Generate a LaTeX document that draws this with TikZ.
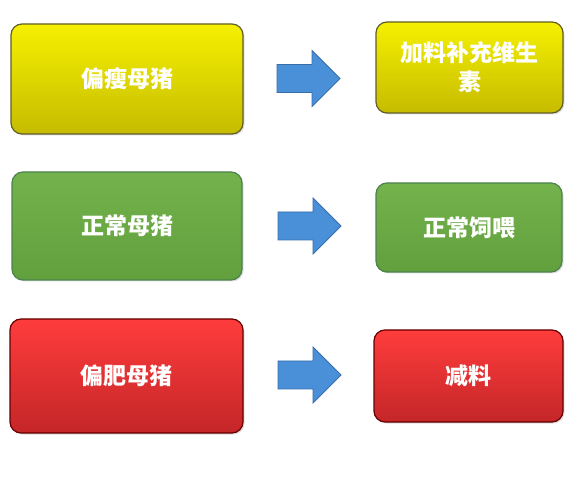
\documentclass[tikz,border=0pt]{standalone}
\usepackage{fontspec}
\newfontfamily\cjk{Noto Sans CJK SC}
\usetikzlibrary{shadows}
\tikzset{
  box/.style={draw, line width=1.2pt, rounded corners=11pt, inner sep=0pt, align=center,
    font=\cjk\bfseries\fontsize{23}{29}\selectfont, text=white,
    drop shadow={shadow xshift=1.5pt, shadow yshift=-1.5pt, opacity=0.25}},
  ybox/.style={box, draw=olive!60!black, top color={rgb,255:red,245;green,240;blue,0}, bottom color={rgb,255:red,198;green,188;blue,0}},
  gbox/.style={box, draw=green!30!black!70, top color={rgb,255:red,116;green,178;blue,76}, bottom color={rgb,255:red,98;green,160;blue,62}},
  rbox/.style={box, draw=red!40!black, top color={rgb,255:red,255;green,60;blue,60}, bottom color={rgb,255:red,196;green,38;blue,40}},
  blk/.style={draw={rgb,255:red,56;green,110;blue,170}, line width=0.8pt, fill={rgb,255:red,74;green,144;blue,217}, line join=miter}
}
\newcommand{\blockarrow}[2]{% x-left, y-center
  \draw[blk] (#1,#2-14) -- (#1+35,#2-14) -- (#1+35,#2-28) -- (#1+63,#2) -- (#1+35,#2+28) -- (#1+35,#2+14) -- (#1,#2+14) -- cycle;}
\begin{document}
\begin{tikzpicture}[x=1pt,y=-1pt]
\useasboundingbox[fill=white] (0,0) rectangle (576,478);
\node[ybox, minimum width=232pt, minimum height=110pt] (a1) at (127,79) {偏瘦母猪};
\node[ybox, minimum width=187pt, minimum height=91pt] (b1) at (469.5,67.5) {加料补充维生\\素};
\node[gbox, minimum width=230pt, minimum height=108pt] (a2) at (127,226) {正常母猪};
\node[gbox, minimum width=186pt, minimum height=89pt] (b2) at (469,227.5) {正常饲喂};
\node[rbox, minimum width=233pt, minimum height=114pt] (a3) at (126.5,376) {偏肥母猪};
\node[rbox, minimum width=189pt, minimum height=92pt] (b3) at (468.5,376) {减料};
\blockarrow{277}{78.5}
\blockarrow{278}{226}
\blockarrow{278}{375}
\end{tikzpicture}
\end{document}
